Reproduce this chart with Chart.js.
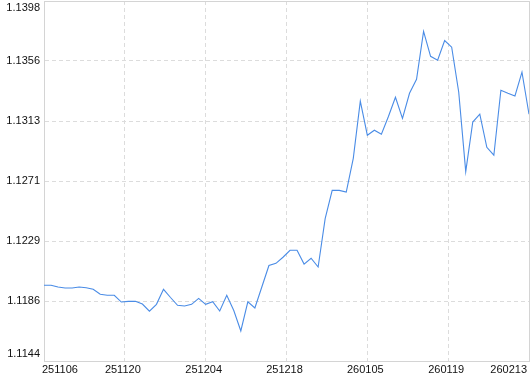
<!DOCTYPE html>
<html>
<head>
<meta charset="utf-8">
<script src="https://cdn.jsdelivr.net/npm/chart.js@4/dist/chart.umd.min.js"></script>
<style>
html,body{margin:0;padding:0;background:#fff;}
canvas{display:block;}
</style>
</head>
<body>
<canvas id="c" width="530" height="374"></canvas>
<script>
const values = [
  1.11974, 1.11974, 1.11962, 1.11955, 1.11955, 1.11962, 1.11957, 1.11946, 1.11911, 1.11904,
  1.11904, 1.11856, 1.11861, 1.11861, 1.11842, 1.11791, 1.11840, 1.11946, 1.11888, 1.11833,
  1.11828, 1.11840, 1.11882, 1.11840, 1.11858, 1.11793, 1.11904, 1.11796, 1.11652, 1.11858,
  1.11814, 1.11964, 1.12114, 1.12129, 1.12172, 1.12221, 1.12221, 1.12124, 1.12165, 1.12103,
  1.12444, 1.12644, 1.12644, 1.12632, 1.12870, 1.13274, 1.13033, 1.13068, 1.13040, 1.13165,
  1.13301, 1.13152, 1.13329, 1.13428, 1.13766, 1.13590, 1.13562, 1.13701, 1.13654, 1.13338,
  1.12776, 1.13126, 1.13181, 1.12948, 1.12892, 1.13350, 1.13329, 1.13310, 1.13478, 1.13181
];
const xTickLabels = ['251106', '251120', '251204', '251218', '260105', '260119', '260213'];
const yTickLabels = ['1.1144', '1.1186', '1.1229', '1.1271', '1.1313', '1.1356', '1.1398'];
const yMin = 1.1144;
const yMax = 1.1398;

const xIndex = values.map((_, i) => i);
const lastIndex = values.length - 1;
const gridColor = '#dcdcdc';
const borderColor = '#d4d4d4';
const fontSpec = {family: '"Liberation Sans", Arial, sans-serif', size: 11};

const frame = {
  id: 'frame',
  afterDraw(chart) {
    const a = chart.chartArea, ctx = chart.ctx;
    ctx.save();
    ctx.strokeStyle = borderColor;
    ctx.lineWidth = 1;
    ctx.beginPath();
    ctx.moveTo(a.left + 0.5, a.top + 0.5);
    ctx.lineTo(a.right + 0.5, a.top + 0.5);
    ctx.lineTo(a.right + 0.5, a.bottom + 0.5);
    ctx.stroke();
    ctx.restore();
  }
};

function noPad(scale) {
  scale.paddingTop = 0;
  scale.paddingBottom = 0;
  scale.paddingLeft = 0;
  scale.paddingRight = 0;
}

new Chart(document.getElementById('c'), {
  type: 'line',
  data: {
    labels: xIndex,
    datasets: [{
      data: values,
      borderColor: '#4a8ce6',
      borderWidth: 1.1,
      pointRadius: 0,
      tension: 0,
      fill: false
    }]
  },
  options: {
    responsive: false,
    animation: false,
    events: [],
    layout: {padding: {top: 1, right: 1, left: 0, bottom: 0}},
    plugins: {legend: {display: false}, tooltip: {enabled: false}},
    scales: {
      x: {
        type: 'linear',
        min: 0,
        max: lastIndex,
        afterBuildTicks(scale) {
          scale.ticks = xTickLabels.map((_, i) => ({value: i * lastIndex / (xTickLabels.length - 1)}));
        },
        afterFit(scale) { scale.height = 13; noPad(scale); },
        grid: {color: gridColor, lineWidth: 1, drawTicks: false},
        border: {display: true, color: borderColor, width: 1, dash: [4, 3]},
        ticks: {
          autoSkip: false,
          maxRotation: 0,
          align: 'inner',
          labelOffset: -2,
          padding: 2,
          color: '#111',
          font: fontSpec,
          callback: (v, i) => xTickLabels[i]
        }
      },
      y: {
        type: 'linear',
        min: yMin,
        max: yMax,
        afterBuildTicks(scale) {
          const n = yTickLabels.length - 1;
          scale.ticks = yTickLabels.map((_, i) => ({value: yMin + i * (yMax - yMin) / n}));
        },
        afterFit(scale) { scale.width = 44; noPad(scale); },
        grid: {color: gridColor, lineWidth: 1, drawTicks: false},
        border: {display: true, color: borderColor, width: 1, dash: [4, 3]},
        ticks: {
          autoSkip: false,
          padding: 4,
          color: '#111',
          font: fontSpec,
          callback: (v, i) => {
            const t = yTickLabels[i];
            if (i === 0) return [t, ''];
            if (i === yTickLabels.length - 1) return ['', t];
            return t;
          }
        }
      }
    }
  },
  plugins: [frame]
});
</script>
</body>
</html>
